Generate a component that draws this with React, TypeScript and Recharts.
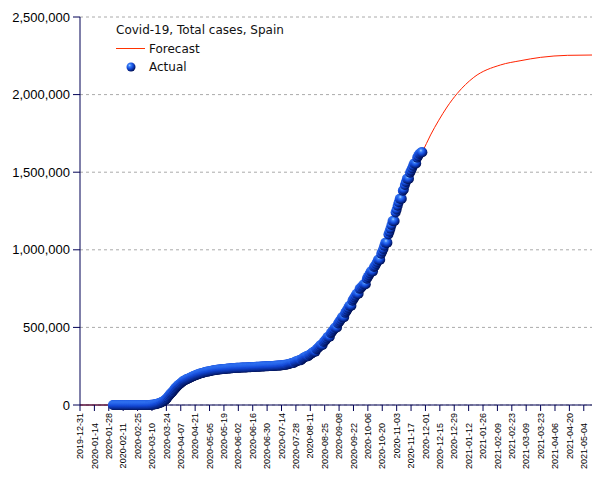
import { ComposedChart, Line, Scatter, XAxis, YAxis, CartesianGrid } from 'recharts';

// x axis labels, one every 14 days
const xTickLabels = [
  '2019-12-31', '2020-01-14', '2020-01-28', '2020-02-11', '2020-02-25', '2020-03-10',
  '2020-03-24', '2020-04-07', '2020-04-21', '2020-05-05', '2020-05-19', '2020-06-02',
  '2020-06-16', '2020-06-30', '2020-07-14', '2020-07-28', '2020-08-11', '2020-08-25',
  '2020-09-08', '2020-09-22', '2020-10-06', '2020-10-20', '2020-11-03', '2020-11-17',
  '2020-12-01', '2020-12-15', '2020-12-29', '2021-01-12', '2021-01-26', '2021-02-09',
  '2021-02-23', '2021-03-09', '2021-03-23', '2021-04-06', '2021-04-20', '2021-05-04',
];

const yTicks = [0, 500000, 1000000, 1500000, 2000000, 2500000];

// Actual total cases, one value per day starting at actualStart (rows are Sat..Fri)
const actualStart = '2020-02-01';
const actualValues = [
  1, 1, 1, 1, 1, 1, 1,
  1, 2, 2, 2, 2, 2, 2,
  2, 2, 2, 2, 2, 2, 2,
  2, 2, 2, 6, 13, 15, 32,
  45, 84, 120, 165, 222, 259, 400,
  500, 673, 1073, 1695, 2277, 3004, 4231,
  5753, 7753, 9191, 11178, 13716, 17147, 19980,
  24926, 28572, 33089, 39673, 47610, 56188, 64059,
  72248, 78797, 85195, 94417, 102136, 110238, 117710,
  124736, 130759, 135032, 140510, 146690, 152446, 157022,
  160000, 163500, 166800, 169500, 172800, 176000, 179300,
  182400, 185500, 188000, 190500, 193200, 195900, 198500,
  200800, 202800, 204500, 206400, 208400, 210500, 212500,
  214000, 215200, 216500, 218000, 219500, 221000, 222400,
  223600, 224400, 225500, 226600, 227700, 228700, 229500,
  230200, 230700, 231300, 231900, 232600, 233300, 234000,
  234600, 235200, 235600, 236100, 236700, 237600, 238300,
  238900, 239300, 239600, 240000, 240300, 240700, 241000,
  241300, 241600, 241700, 242000, 242300, 242700, 243200,
  243600, 243900, 244300, 244700, 245300, 245600, 245900,
  246300, 246500, 246800, 247100, 247500, 247900, 248400,
  248800, 249000, 249300, 249700, 250100, 250500, 250700,
  250700, 250700, 251800, 252100, 252500, 253000, 253900,
  253900, 253900, 255000, 255900, 256600, 257500, 258900,
  258900, 258900, 262000, 264100, 266200, 268200, 270200,
  270200, 270200, 278800, 280600, 282600, 285400, 288500,
  288500, 288500, 297000, 302800, 305800, 309900, 314400,
  314400, 314400, 322900, 326600, 329800, 337300, 342800,
  342800, 342800, 359100, 364200, 370900, 377900, 386100,
  386100, 386100, 405400, 412600, 419800, 429500, 439300,
  439300, 439300, 462900, 470900, 479600, 488500, 499000,
  499000, 499000, 525500, 534500, 543400, 554100, 566300,
  566300, 566300, 593700, 603200, 614400, 625700, 640000,
  640000, 640000, 671500, 682300, 693600, 704200, 716500,
  716500, 716500, 748300, 753000, 762000, 769200, 778600,
  778600, 778600, 813400, 825400, 835900, 848300, 861100,
  861100, 861100, 888900, 896100, 908100, 921400, 936600,
  936600, 936600, 974400, 988900, 1005300, 1026300, 1046100,
  1046100, 1046100, 1098300, 1116700, 1136500, 1160100, 1185700,
  1185700, 1185700, 1240700, 1259400, 1284400, 1306300, 1328800,
  1328800, 1328800, 1381200, 1388400, 1417700, 1437200, 1458600,
  1458600, 1458600, 1496900, 1510000, 1525300, 1541600, 1556700,
  1556700, 1556700, 1594000, 1605100, 1617400, 1622600, 1628200,
  1628200,
];

// Forecast curve
const forecastDates = [
  '2019-12-31', '2020-02-25', '2020-03-10', '2020-03-17', '2020-03-24', '2020-03-31',
  '2020-04-07', '2020-04-14', '2020-04-21', '2020-05-01', '2020-05-15', '2020-06-01',
  '2020-06-15', '2020-07-01', '2020-07-15', '2020-08-01', '2020-08-15', '2020-09-01',
  '2020-09-15', '2020-10-01', '2020-10-15', '2020-11-01', '2020-11-15', '2020-11-28',
  '2020-12-06', '2020-12-14', '2020-12-22', '2021-01-01', '2021-01-17', '2021-02-12',
  '2021-03-03', '2021-03-23', '2021-04-18', '2021-05-12',
];
const forecastValues = [
  0, 10, 1800, 11000, 40000, 94000,
  140000, 170000, 190000, 212000, 229000, 239500,
  244000, 250000, 256000, 290000, 345000, 470000,
  600000, 760000, 910000, 1200000, 1470000, 1630000,
  1740000, 1835000, 1920000, 2008000, 2111000, 2191000,
  2218000, 2240000, 2253000, 2255000,
];

const dayOf = (s: string) => Math.round((Date.parse(s) - Date.parse('2019-12-31')) / 86400000);
const startDay = dayOf(actualStart);

const actualData = actualValues.map((v, i) => ({ x: startDay + i, y: v }));
const forecastData = forecastDates.map((d, i) => ({ x: dayOf(d), y: forecastValues[i] }));
const xTicks = xTickLabels.map(dayOf);

const AXIS = '#000055';

const DateTick = ({ x, payload }: any) => {
  const i = Math.round(payload.value / 14);
  const top = 413 + (i % 2) * 10;
  return (
    <text
      x={0}
      y={0}
      transform={`translate(${x},${top}) rotate(-90)`}
      textAnchor="end"
      dy="0.35em"
      fontSize={9}
      fontFamily="Liberation Sans, Arial, sans-serif"
      fill="#000"
    >
      {xTickLabels[i]}
    </text>
  );
};

const Sphere = ({ cx, cy }: any) => <circle cx={cx} cy={cy} r={5} fill="url(#sphere)" />;

const App = () => {
  return (
    <div style={{ position: 'absolute', left: 0, top: 0, width: 605, height: 480, background: '#fff' }}>
      <svg width={0} height={0} style={{ position: 'absolute' }}>
        <defs>
          <radialGradient id="sphere" cx="35%" cy="32%" r="70%">
            <stop offset="0%" stopColor="#a8d2ff" />
            <stop offset="22%" stopColor="#3a80fa" />
            <stop offset="55%" stopColor="#1248d8" />
            <stop offset="100%" stopColor="#001055" />
          </radialGradient>
        </defs>
      </svg>
      <ComposedChart width={605} height={480} margin={{ top: 17, right: 13, bottom: 0, left: 0 }}>
        <CartesianGrid vertical={false} stroke="#aaaaaa" strokeDasharray="3 3" />
        <XAxis
          dataKey="x"
          type="number"
          domain={[0, 498]}
          ticks={xTicks}
          interval={0}
          height={75}
          tickSize={6}
          stroke={AXIS}
          tick={<DateTick />}
          allowDataOverflow
        />
        <YAxis
          type="number"
          domain={[0, 2500000]}
          ticks={yTicks}
          width={80}
          tickSize={7}
          tickMargin={3}
          stroke={AXIS}
          tick={{ fill: '#000', fontSize: 13, fontFamily: 'Liberation Sans, Arial, sans-serif' }}
          tickFormatter={(v: number) => v.toLocaleString('en-US')}
        />
        <Line
          data={forecastData}
          dataKey="y"
          type="monotone"
          stroke="#ff2200"
          strokeWidth={1}
          dot={false}
          isAnimationActive={false}
        />
        <Scatter data={actualData} dataKey="y" shape={<Sphere />} isAnimationActive={false} />
      </ComposedChart>
      <svg width={605} height={480} style={{ position: 'absolute', left: 0, top: 0, pointerEvents: 'none' }}>
        <g fontFamily="DejaVu Sans, sans-serif" fontSize={12} fill="#111">
          <text x={116} y={34}>Covid-19, Total cases, Spain</text>
          <line x1={116} y1={48.5} x2={145} y2={48.5} stroke="#ff3300" strokeWidth={1} />
          <text x={149} y={53}>Forecast</text>
          <circle cx={131} cy={67} r={4.5} fill="url(#sphere)" />
          <text x={149} y={71}>Actual</text>
        </g>
      </svg>
    </div>
  );
};

export default App;
